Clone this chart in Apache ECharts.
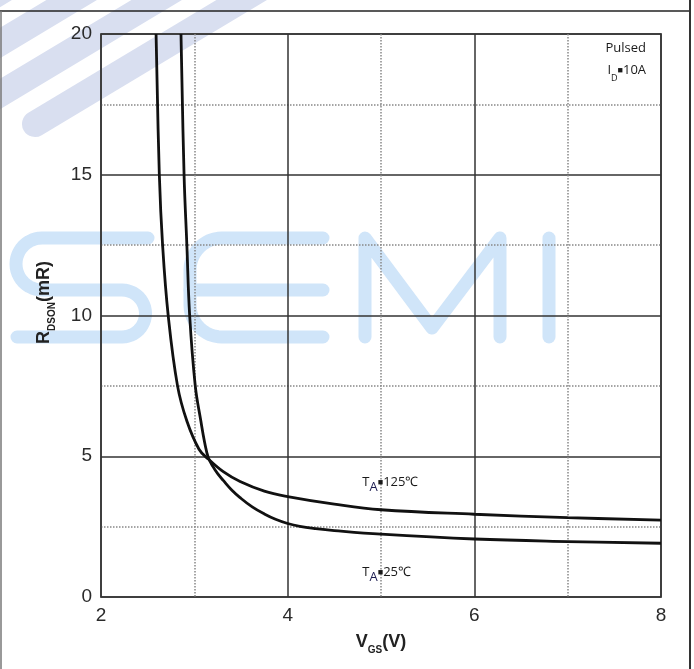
<!DOCTYPE html>
<html><head><meta charset="utf-8">
<script src="https://cdn.jsdelivr.net/npm/echarts@6/dist/echarts.min.js"></script>
<style>html,body{margin:0;padding:0;background:#fff}#c{width:694px;height:669px}</style>
</head><body><div id="c"></div><script>
// ---- data ----
const xTicks = [2, 4, 6, 8];
const yTicks = [0, 5, 10, 15, 20];
const vgs125 = [2.59, 2.625, 2.66, 2.72, 2.82, 2.92, 3.05, 3.15, 3.31, 3.49, 3.75, 4.0, 4.5, 5.0, 6.0, 7.0, 8.0];
const r125   = [20, 15, 12.5, 10, 7.5, 6.25, 5.25, 4.9, 4.45, 4.1, 3.76, 3.57, 3.3, 3.1, 2.94, 2.82, 2.73];
const vgs25  = [2.857, 2.89, 2.92, 2.95, 3.01, 3.07, 3.11, 3.15, 3.2, 3.25, 3.31, 3.4, 3.49, 3.62, 3.75, 3.87, 4.0, 4.13, 4.3, 4.5, 5.0, 6.0, 7.0, 8.0];
const r25    = [20, 15, 12.5, 10, 7.5, 6.25, 5.5, 4.95, 4.63, 4.38, 4.14, 3.8, 3.53, 3.2, 2.95, 2.76, 2.61, 2.51, 2.43, 2.36, 2.23, 2.06, 1.97, 1.91];
const seriesNames = ['TA=125℃', 'TA=25℃'];
const noteLines = ['Pulsed', 'ID=10A'];

const chart = echarts.init(document.getElementById('c'), null, {renderer: 'canvas'});
const zip = (a, b) => a.map((v, i) => [v, b[i]]);
const labelFont = {fontFamily: 'Liberation Sans, Arial, sans-serif', fontSize: 19, color: '#2a2a2a'};
const subRich = {
  r: {fontFamily: 'Liberation Sans, Arial, sans-serif', fontWeight: 'bold', fontSize: 18, color: '#222', verticalAlign: 'middle', lineHeight: 26},
  s: {fontFamily: 'Liberation Sans, Arial, sans-serif', fontWeight: 'bold', fontSize: 10, color: '#222', verticalAlign: 'bottom', lineHeight: 26}
};
const majorLine = {show: true, lineStyle: {color: '#333', width: 1.5, type: 'solid'}};
const minorLine = {show: true, lineStyle: {color: '#888', width: 1.5, type: [1.5, 1.5]}};

chart.setOption({
  animation: false,
  backgroundColor: '#fff',
  grid: {left: 101, right: 33, top: 34, bottom: 72, show: true, borderColor: '#666', borderWidth: 2, backgroundColor: 'transparent'},
  xAxis: {
    type: 'value', min: xTicks[0], max: xTicks[xTicks.length - 1], interval: 2,
    axisLine: {show: false}, axisTick: {show: false},
    axisLabel: Object.assign({margin: 9}, labelFont),
    splitLine: majorLine,
    minorTick: {show: false, splitNumber: 2},
    minorSplitLine: minorLine,
    name: '{r|V}{s|GS}{r|(V)}', nameLocation: 'middle', nameGap: 32,
    nameTextStyle: {rich: subRich}
  },
  yAxis: {
    type: 'value', min: yTicks[0], max: yTicks[yTicks.length - 1], interval: 5,
    axisLine: {show: false}, axisTick: {show: false},
    axisLabel: Object.assign({margin: 9}, labelFont),
    splitLine: majorLine,
    minorTick: {show: false, splitNumber: 2},
    minorSplitLine: minorLine,
    name: '{r|R}{s|DSON}{r|(mR)}', nameLocation: 'middle', nameGap: 44, nameRotate: 90,
    nameTextStyle: {rich: subRich, padding: [0, 0, 0, 26]}
  },
  series: [
    {name: seriesNames[0], type: 'line', data: zip(vgs125, r125), showSymbol: false, smooth: 0.4, clip: true,
     lineStyle: {color: '#111', width: 2.8}, z: 5},
    {name: seriesNames[1], type: 'line', data: zip(vgs25, r25), showSymbol: false, smooth: 0.4, clip: true,
     lineStyle: {color: '#111', width: 2.8}, z: 5}
  ]
});

// annotations anchored to data coordinates
const px = (x, y) => chart.convertToPixel({gridIndex: 0}, [x, y]);
const pPulsed = px(7.84, 19.5);
const pId = px(7.84, 18.7);
const p125 = px(4.8, 4.08);
const p25 = px(4.8, 0.89);
const noteFont = 'Open Sans, sans-serif';
const annRich = {
  t: {fontFamily: noteFont, fontSize: 13, fill: '#1a1a1a', verticalAlign: 'middle', lineHeight: 24},
  a: {fontFamily: noteFont, fontSize: 13, fill: '#1c1c50', verticalAlign: 'bottom', lineHeight: 24},
  q: {fontFamily: noteFont, fontSize: 9, fill: '#1a1a1a', verticalAlign: 'middle', lineHeight: 24},
  d: {fontFamily: noteFont, fontSize: 9, fill: '#1a1a1a', verticalAlign: 'bottom', lineHeight: 22}
};

// decorative shapes (watermark, stripes, frame)
function arc(cx, cy, r, a0, a1, n) {
  const pts = [];
  for (let i = 0; i <= n; i++) {
    const a = (a0 + (a1 - a0) * i / n) * Math.PI / 180;
    pts.push([cx + r * Math.cos(a), cy + r * Math.sin(a)]);
  }
  return pts;
}
const wm = '#d0e5f9';
const st = '#d9dff0';
const wmLine = {stroke: wm, lineWidth: 13, lineCap: 'round', lineJoin: 'round', fill: null};
const stLine = {stroke: st, lineWidth: 26, lineCap: 'round', fill: null};
const sPts = [[148, 238]].concat(arc(42, 264, 26, -90, -270, 24), arc(122, 313.5, 23.5, -90, 90, 24), [[17, 337]]);
const ePts = [[323, 238]].concat(arc(222, 270, 32, -90, -180, 12), arc(222, 305, 32, 180, 90, 12), [[323, 337]]);
const deco = (type, shape, style) => ({type, z: -10, silent: true, shape, style});

chart.setOption({
  graphic: [
    deco('line', {x1: 35, y1: 124, x2: 330, y2: -53}, stLine),
    deco('line', {x1: -100, y1: 154, x2: 330, y2: -104}, stLine),
    deco('line', {x1: -100, y1: 103, x2: 330, y2: -155}, stLine),
    deco('line', {x1: -100, y1: 52, x2: 330, y2: -206}, stLine),
    deco('line', {x1: -100, y1: 1, x2: 330, y2: -257}, stLine),
    deco('polyline', {points: sPts}, wmLine),
    deco('polyline', {points: ePts}, wmLine),
    deco('line', {x1: 190, y1: 290, x2: 323, y2: 290}, wmLine),
    deco('polyline', {points: [[365, 337], [365, 238], [432, 328], [500, 238], [500, 337]]}, wmLine),
    deco('line', {x1: 549, y1: 238, x2: 549, y2: 337}, wmLine),
    {type: 'line', z: 10, silent: true, shape: {x1: 0, y1: 11, x2: 690, y2: 11}, style: {stroke: '#222', lineWidth: 1.5}},
    {type: 'line', z: 10, silent: true, shape: {x1: 1, y1: 11, x2: 1, y2: 669}, style: {stroke: '#777', lineWidth: 1.5}},
    {type: 'line', z: 10, silent: true, shape: {x1: 690, y1: 0, x2: 690, y2: 669}, style: {stroke: '#333', lineWidth: 2}},
    {type: 'text', z: 20, x: pPulsed[0], y: pPulsed[1], style: {text: noteLines[0], fontFamily: noteFont, fontSize: 13, fill: '#1a1a1a', align: 'right', verticalAlign: 'middle'}},
    {type: 'text', z: 20, x: pId[0], y: pId[1], style: {text: '{t|I}{d|D}{q|■}{t|10A}', rich: annRich, align: 'right', verticalAlign: 'middle'}},
    {type: 'text', z: 20, x: p125[0], y: p125[1], style: {text: '{t|T}{a|A}{q|■}{t|125℃}', rich: annRich, align: 'left', verticalAlign: 'middle'}},
    {type: 'text', z: 20, x: p25[0], y: p25[1], style: {text: '{t|T}{a|A}{q|■}{t|25℃}', rich: annRich, align: 'left', verticalAlign: 'middle'}}
  ]
});
</script></body></html>
